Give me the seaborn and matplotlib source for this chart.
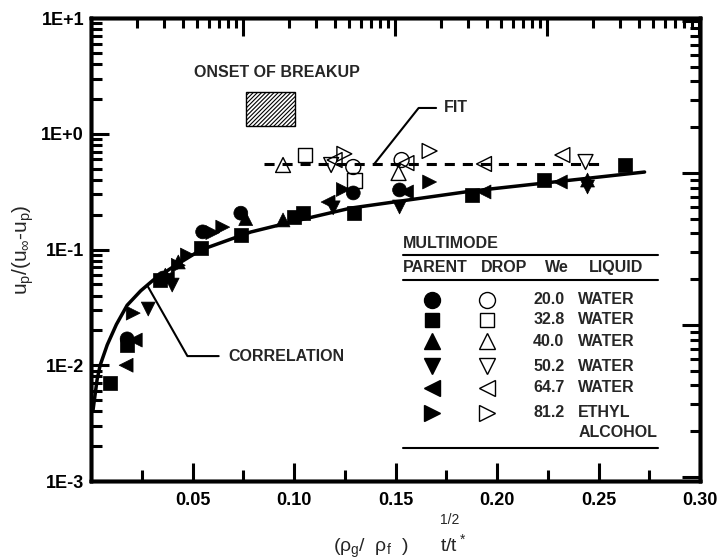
import numpy as np
import pandas as pd
import seaborn as sns
import matplotlib.pyplot as plt
from matplotlib.patches import Rectangle
from matplotlib.lines import Line2D
from matplotlib.ticker import FixedLocator, LogLocator, NullFormatter, FixedFormatter

sns.set_style("ticks")
plt.rcParams['font.family'] = ['Liberation Sans', 'DejaVu Sans']
plt.rcParams['mathtext.fontset'] = 'custom'
plt.rcParams['mathtext.rm'] = 'Liberation Sans'
plt.rcParams['mathtext.it'] = 'Liberation Sans'
plt.rcParams['mathtext.bf'] = 'Liberation Sans:bold'
plt.rcParams['hatch.linewidth'] = 0.8
plt.rcParams['axes.edgecolor'] = 'black'
plt.rcParams['xtick.color'] = 'black'
plt.rcParams['ytick.color'] = 'black'

# legend table
we_values = ["20.0", "32.8", "40.0", "50.2", "64.7", "81.2"]
liquids = ["WATER", "WATER", "WATER", "WATER", "WATER", "ETHYL\nALCOHOL"]
marker_list = ["o", "s", "^", "v", "<", ">"]

# parent drops (filled symbols)
we20_parent_x = [0.0178, 0.0356, 0.055, 0.0738, 0.1292, 0.152]
we20_parent_y = [0.0169, 0.0567, 0.142, 0.206, 0.308, 0.327]
we33_parent_x = [0.0094, 0.0178, 0.0342, 0.054, 0.0738, 0.100, 0.1045, 0.1297, 0.1876, 0.2233, 0.2629]
we33_parent_y = [0.0070, 0.0150, 0.0545, 0.103, 0.133, 0.191, 0.206, 0.206, 0.296, 0.398, 0.537]
we40_parent_x = [0.0366, 0.043, 0.0762, 0.0946, 0.2446]
we40_parent_y = [0.060, 0.078, 0.185, 0.180, 0.398]
we50_parent_x = [0.0282, 0.040, 0.1193, 0.152, 0.2446]
we50_parent_y = [0.0306, 0.0493, 0.229, 0.233, 0.347]
we65_parent_x = [0.0173, 0.0218, 0.0376, 0.1168, 0.1554, 0.1936, 0.2312]
we65_parent_y = [0.0100, 0.0165, 0.0567, 0.257, 0.314, 0.314, 0.383]
we81_parent_x = [0.0208, 0.043, 0.0475, 0.060, 0.0649, 0.1243, 0.1668]
we81_parent_y = [0.0282, 0.073, 0.0896, 0.140, 0.156, 0.330, 0.383]

# product drops (open symbols)
we20_drop_x = [0.1292, 0.153]
we20_drop_y = [0.516, 0.593]
we33_drop_x = [0.1054, 0.1297]
we33_drop_y = [0.655, 0.398]
we40_drop_x = [0.0946, 0.1515]
we40_drop_y = [0.537, 0.458]
we50_drop_x = [0.1183, 0.2436]
we50_drop_y = [0.537, 0.570]
we65_drop_x = [0.120, 0.1554, 0.1936, 0.2322]
we65_drop_y = [0.593, 0.558, 0.548, 0.655]
we81_drop_x = [0.1248, 0.1668]
we81_drop_y = [0.670, 0.710]

# correlation curve and fit line
corr_x = [0.001, 0.003, 0.0045, 0.008, 0.0125, 0.0178, 0.0245, 0.0307, 0.040,
          0.054, 0.0787, 0.100, 0.128, 0.1876, 0.2727]
corr_y = [0.0041, 0.0075, 0.0100, 0.0150, 0.0225, 0.033, 0.044, 0.0545, 0.070,
          0.099, 0.1416, 0.175, 0.228, 0.320, 0.467]
fit_x = [0.085, 0.2505]
fit_y = [0.55, 0.55]

x_ticks = [0.05, 0.10, 0.15, 0.20, 0.25, 0.30]
x_tick_labels = ["0.05", "0.10", "0.15", "0.20", "0.25", "0.30"]
y_ticks = [1e-3, 1e-2, 1e-1, 1e0, 1e1]
y_tick_labels = ["1E-3", "1E-2", "1E-1", "1E+0", "1E+1"]

parent_x = [we20_parent_x, we33_parent_x, we40_parent_x, we50_parent_x, we65_parent_x, we81_parent_x]
parent_y = [we20_parent_y, we33_parent_y, we40_parent_y, we50_parent_y, we65_parent_y, we81_parent_y]
drop_x = [we20_drop_x, we33_drop_x, we40_drop_x, we50_drop_x, we65_drop_x, we81_drop_x]
drop_y = [we20_drop_y, we33_drop_y, we40_drop_y, we50_drop_y, we65_drop_y, we81_drop_y]

rows = []
for we, px, py, ox, oy in zip(we_values, parent_x, parent_y, drop_x, drop_y):
    for x, y in zip(px, py):
        rows.append({"x": x, "y": y, "We": we, "kind": "parent"})
    for x, y in zip(ox, oy):
        rows.append({"x": x, "y": y, "We": we, "kind": "drop"})
df = pd.DataFrame(rows)
marker_map = dict(zip(we_values, marker_list))

fig = plt.figure(figsize=(7.18, 5.6), dpi=100)
ax = fig.add_axes([91 / 718, 79 / 560, 609 / 718, 463 / 560])
ax.set_yscale("log")

sns.lineplot(x=corr_x, y=corr_y, color="black", lw=2.5, estimator=None, sort=False, ax=ax)
sns.lineplot(x=fit_x, y=fit_y, color="black", lw=2.2, estimator=None,
             linestyle=(0, (3.3, 2.6)), ax=ax)

sns.scatterplot(data=df[df["kind"] == "parent"], x="x", y="y", style="We",
                style_order=we_values, markers=marker_map, color="black",
                edgecolor="black", linewidth=0.5, s=100, legend=False, ax=ax, zorder=3)
sns.scatterplot(data=df[df["kind"] == "drop"], x="x", y="y", style="We",
                style_order=we_values, markers=marker_map, color="black",
                facecolor="none", edgecolor="black", linewidth=1.0, s=115,
                legend=False, ax=ax, zorder=3)

# onset of breakup box
ax.add_patch(Rectangle((0.0762, 1.17), 0.0243, 1.13, fill=False, hatch="////////",
                       edgecolor="black", lw=1.0))
ax.text(0.0916, 3.4, "ONSET OF BREAKUP", ha="center", va="center",
        fontsize=11.5, fontweight="bold")

# leaders
ax.plot([0.1396, 0.1614, 0.170], [0.55, 1.67, 1.67], color="black", lw=1.5)
ax.text(0.1738, 1.67, "FIT", ha="left", va="center", fontsize=11.5, fontweight="bold")
ax.plot([0.0277, 0.0475, 0.0629], [0.049, 0.012, 0.012], color="black", lw=1.5)
ax.text(0.0678, 0.012, "CORRELATION", ha="left", va="center", fontsize=11.5, fontweight="bold")

# legend table in axes coordinates
tx = ax.transAxes
tkw = dict(transform=tx, fontsize=11.5, fontweight="bold", va="center")
ax.text(0.512, 0.514, "MULTIMODE", ha="left", **tkw)
ax.text(0.512, 0.462, "PARENT", ha="left", **tkw)
ax.text(0.641, 0.462, "DROP", ha="left", **tkw)
ax.text(0.765, 0.462, "We", ha="center", **tkw)
ax.text(0.818, 0.462, "LIQUID", ha="left", **tkw)
for yy in [0.488, 0.434, 0.071]:
    ax.add_line(Line2D([0.512, 0.931], [yy, yy], transform=tx, color="black", lw=1.5))
row_y = [0.391, 0.348, 0.302, 0.248, 0.201, 0.147]
for we, liq, m, yy in zip(we_values, liquids, marker_list, row_y):
    ms = 9.5 if m == "s" else 11.5
    ax.add_line(Line2D([0.560], [yy], transform=tx, marker=m, ms=ms, color="black",
                       linestyle="none"))
    ax.add_line(Line2D([0.650], [yy], transform=tx, marker=m, ms=ms, color="black",
                       mfc="none", mew=1.0, linestyle="none"))
    ax.text(0.726, yy, we, ha="left", **tkw)
    for k, part in enumerate(liq.split("\n")):
        ax.text(0.800, yy - k * 0.043, part, ha="left", **tkw)

ax.set_xlim(0, 0.30)
ax.set_ylim(1e-3, 10)

ax.xaxis.set_major_locator(FixedLocator(x_ticks))
ax.xaxis.set_major_formatter(FixedFormatter(x_tick_labels))
ax.xaxis.set_minor_locator(FixedLocator([0.025, 0.075, 0.125, 0.175, 0.225, 0.275]))
ax.yaxis.set_major_locator(FixedLocator(y_ticks))
ax.yaxis.set_major_formatter(FixedFormatter(y_tick_labels))
ax.yaxis.set_minor_locator(LogLocator(base=10, subs=np.arange(2, 10)))
ax.yaxis.set_minor_formatter(NullFormatter())
ax.tick_params(which="major", direction="in", length=13, width=2.2, labelsize=13,
               top=False, right=False)
ax.tick_params(which="minor", direction="in", length=8, width=2.2, top=False, right=False)
ax.tick_params(axis="x", pad=8)
ax.tick_params(axis="y", pad=5)
for lab in ax.get_xticklabels() + ax.get_yticklabels():
    lab.set_fontweight("bold")

# top and right tick scales of the original frame
ax_top = ax.twiny()
ax_top.set_xscale("log")
ax_top.set_xlim(1, 10 ** (609 / 152))
ax_top.tick_params(axis="x", which="major", direction="in", length=13, width=2.2,
                   top=True, bottom=False, labeltop=False, labelbottom=False)
ax_top.tick_params(axis="x", which="minor", direction="in", length=7, width=2.2,
                   top=True, bottom=False, labeltop=False, labelbottom=False)
ax_top.xaxis.set_minor_formatter(NullFormatter())
ax_right = ax.twinx()
ax_right.set_yscale("log")
ax_right.set_ylim(10 ** (-4 / 152), 10 ** (459 / 152))
ax_right.tick_params(axis="y", which="major", direction="in", length=13, width=2.2,
                     right=True, left=False, labelright=False, labelleft=False)
ax_right.tick_params(axis="y", which="minor", direction="in", length=7, width=2.2,
                     right=True, left=False, labelright=False, labelleft=False)
ax_right.yaxis.set_minor_formatter(NullFormatter())
for a in [ax, ax_top, ax_right]:
    for sp in a.spines.values():
        sp.set_linewidth(2.5)
        sp.set_visible(True)

ax.set_xlabel(r"$(\rho_g/\ \ \rho_f\ \ )\qquad t/t^*$", fontsize=14)
ax.xaxis.set_label_coords(0.507, -0.112)
fig.text(450 / 718, 1 - 520 / 560, "1/2", ha="center", va="center", fontsize=10)
ax.set_ylabel(r"$u_p/(u_\infty$-$u_p)$", fontsize=15)
ax.yaxis.set_label_coords(-0.09, 0.5)

fig.savefig("out.png", dpi=100, facecolor="white")
